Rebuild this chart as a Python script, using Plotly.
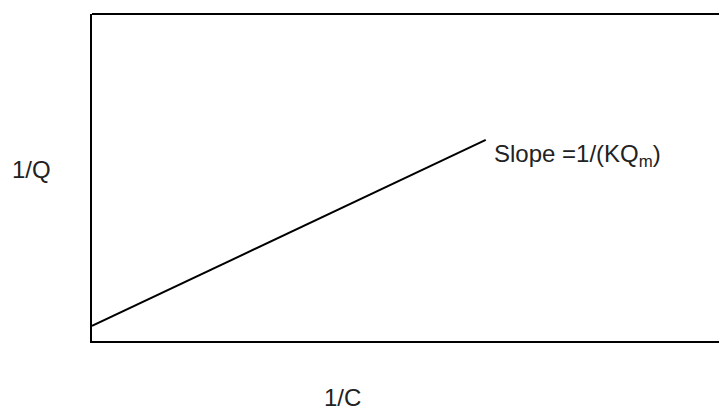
import plotly.graph_objects as go

# Data: a straight line in 1/Q vs 1/C (Langmuir linear form), axes normalized 0..1
line_x = [0.0, 0.628]
line_y = [0.046, 0.615]
x_label = "1/C"
y_label = "1/Q"
slope_label = "Slope =1/(KQ<sub>m</sub>)"

fig = go.Figure()
fig.add_trace(go.Scatter(x=line_x, y=line_y, mode="lines",
                         line=dict(color="black", width=2), showlegend=False,
                         hoverinfo="skip"))

font = dict(family="Liberation Sans, Arial, sans-serif", size=24, color="#222222")

fig.add_annotation(x=line_x[1], y=line_y[1], xref="x", yref="y",
                   text=slope_label, showarrow=False, xanchor="left", yanchor="top",
                   xshift=6, yshift=2, font=font)
fig.add_annotation(x=-0.0957, y=0.523, xref="paper", yref="paper", text=y_label,
                   showarrow=False, xanchor="center", yanchor="middle", font=font)
fig.add_annotation(x=0.399, y=-0.174, xref="paper", yref="paper", text=x_label,
                   showarrow=False, xanchor="center", yanchor="middle", font=font)

# top border of the frame
fig.add_shape(type="line", xref="paper", yref="paper", x0=0, x1=1.05, y0=1, y1=1,
              line=dict(color="black", width=2))

fig.update_xaxes(range=[0, 1], showgrid=False, zeroline=False, showticklabels=False,
                 ticks="", showline=True, linecolor="black", linewidth=2)
fig.update_yaxes(range=[0, 1], showgrid=False, zeroline=False, showticklabels=False,
                 ticks="", showline=True, linecolor="black", linewidth=2)

fig.update_layout(width=719, height=412, margin=dict(l=92, r=0, t=14, b=71),
                  paper_bgcolor="white", plot_bgcolor="white")

fig.write_html("out.html")
